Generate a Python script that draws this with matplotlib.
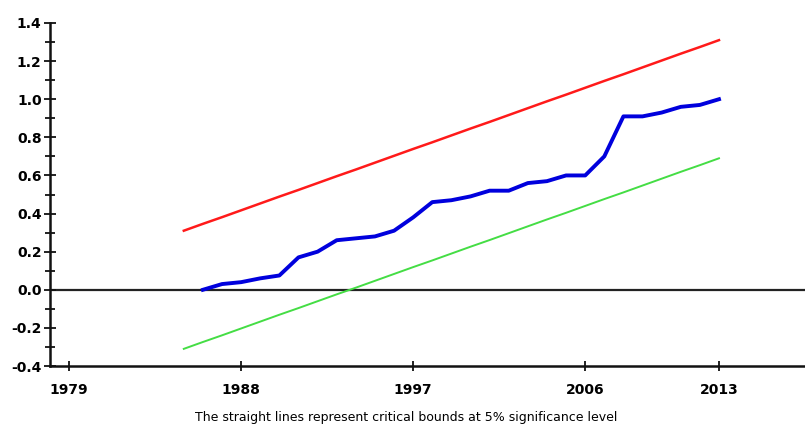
import matplotlib
matplotlib.use("Agg")
import matplotlib.pyplot as plt
from matplotlib.ticker import MultipleLocator

# CUSUM of squares, annual
years_bounds = list(range(1985, 2014))
upper_bound = [0.310, 0.346, 0.381, 0.417, 0.453, 0.489, 0.524, 0.560, 0.596, 0.631,
               0.667, 0.703, 0.739, 0.774, 0.810, 0.846, 0.881, 0.917, 0.953, 0.989,
               1.024, 1.060, 1.096, 1.131, 1.167, 1.203, 1.239, 1.274, 1.310]
lower_bound = [-0.310, -0.274, -0.239, -0.203, -0.167, -0.131, -0.096, -0.060, -0.024, 0.011,
               0.047, 0.083, 0.119, 0.154, 0.190, 0.226, 0.261, 0.297, 0.333, 0.369,
               0.404, 0.440, 0.476, 0.511, 0.547, 0.583, 0.619, 0.654, 0.690]

years_cusum = list(range(1986, 2014))
cusumsq = [0.00, 0.03, 0.04, 0.06, 0.075, 0.17, 0.20, 0.26, 0.27, 0.28,
           0.31, 0.38, 0.46, 0.47, 0.49, 0.52, 0.52, 0.56, 0.57, 0.60,
           0.60, 0.70, 0.91, 0.91, 0.93, 0.96, 0.97, 1.00]

xticks = [1979, 1988, 1997, 2006, 2013]
caption = "The straight lines represent critical bounds at 5% significance level"

fig = plt.figure(figsize=(8.05, 4.29), dpi=100)
ax = fig.add_axes([50 / 805, 63 / 429, 755 / 805, 343 / 429])

ax.plot(years_bounds, upper_bound, color="#ff1a1a", lw=1.8)
ax.plot(years_bounds, lower_bound, color="#44dd44", lw=1.4)
ax.plot(years_cusum, cusumsq, color="#0000dd", lw=2.8, solid_joinstyle="round")
ax.axhline(0, color="#222222", lw=1.6, zorder=1)

ax.set_xlim(1978, 2017.5)
ax.set_ylim(-0.4, 1.4)

for s in ["top", "right"]:
    ax.spines[s].set_visible(False)
for s in ["left", "bottom"]:
    ax.spines[s].set_linewidth(1.8)
    ax.spines[s].set_color("#111111")

ax.set_xticks(xticks)
ax.yaxis.set_major_locator(MultipleLocator(0.2))
ax.yaxis.set_minor_locator(MultipleLocator(0.1))
ax.set_yticklabels([f"{v:.1f}" for v in ax.get_yticks()])
ax.tick_params(axis="both", which="both", direction="inout", width=1.3, color="#111111")
ax.tick_params(axis="y", which="major", length=8, pad=2)
ax.tick_params(axis="y", which="minor", length=7)
ax.tick_params(axis="x", which="major", length=7, pad=9)
for lbl in ax.get_xticklabels() + ax.get_yticklabels():
    lbl.set_fontweight("bold")
    lbl.set_fontsize(10)

fig.text(406 / 805, 1 - 418 / 429, caption, ha="center", va="center", fontsize=9)

fig.savefig("out.png", dpi=100)
